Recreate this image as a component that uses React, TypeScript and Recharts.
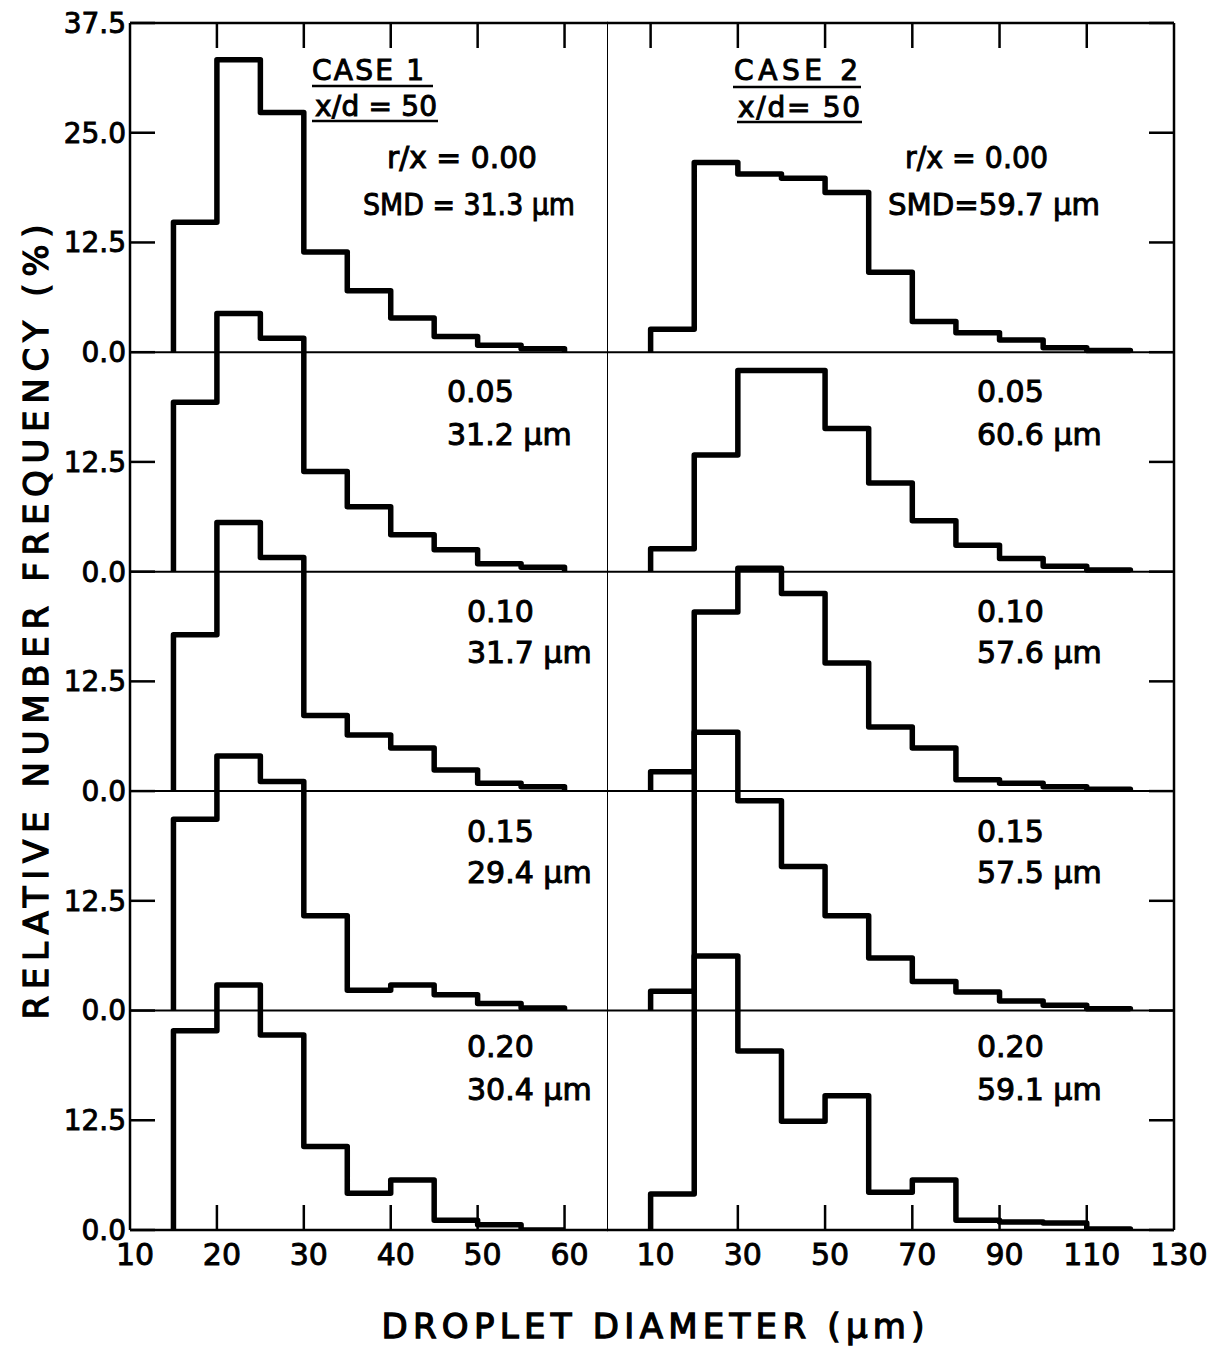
import React from "react";
import { LineChart, Line, XAxis, YAxis, ReferenceLine } from "recharts";

// r/x stations, top row first, with the Sauter mean diameter for each
const radialStations = ["0.00", "0.05", "0.10", "0.15", "0.20"];
const case1Smd = ["31.3", "31.2", "31.7", "29.4", "30.4"];
const case2Smd = ["59.7", "60.6", "57.6", "57.5", "59.1"];

// bin edges in µm
const case1Edges = [15, 20, 25, 30, 35, 40, 45, 50, 55, 60];
const case2Edges = [10, 20, 30, 40, 50, 60, 70, 80, 90, 100, 110, 120];

// relative number frequency (%) per bin, one row per station
const case1Freq = [
    [14.8, 33.3, 27.3, 11.4, 7.0, 3.9, 1.8, 0.8, 0.4],
    [19.3, 29.4, 26.6, 11.4, 7.4, 4.2, 2.5, 0.9, 0.5],
    [17.8, 30.6, 26.6, 8.6, 6.4, 4.9, 2.4, 0.9, 0.5],
    [21.8, 29.0, 26.1, 10.8, 2.3, 2.9, 1.8, 0.8, 0.3],
    [22.7, 27.9, 22.2, 9.5, 4.2, 5.7, 1.1, 0.6, 0],
];
const case2Freq = [
    [2.6, 21.6, 20.3, 19.8, 18.2, 9.1, 3.5, 2.2, 1.4, 0.5, 0.2],
    [2.6, 13.3, 22.9, 22.9, 16.3, 10.1, 5.8, 3.0, 1.5, 0.6, 0.2],
    [2.2, 20.4, 25.4, 22.5, 14.6, 7.3, 4.9, 1.3, 0.9, 0.5, 0.2],
    [2.2, 31.7, 23.9, 16.4, 10.8, 6.0, 3.3, 2.1, 1.1, 0.6, 0.2],
    [4.1, 31.2, 20.4, 12.4, 15.3, 4.3, 5.7, 1.1, 0.9, 0.8, 0.1],
];

// axis ticks
const case1XLabels = [10, 20, 30, 40, 50, 60];
const case1XMarks = [20, 30, 40, 50, 60];
const case2XLabels = [10, 30, 50, 70, 90, 110, 130];
const case2XMarks = [10, 30, 50, 70, 90, 110];
const yTicks = [0, 12.5, 25, 37.5, 50, 62.5, 75, 87.5, 100, 112.5, 125, 137.5];
const panelBaselines = [25, 50, 75, 100];

const PANEL = 25;
const Y_MAX = 137.5;
const FONT = "'DejaVu Sans', sans-serif";
const INK = "#000";
const H = 1346;

type Pt = { x: number; y: number };

// outline of a histogram sitting on a panel baseline
function stepOutline(edges: number[], freq: number[], base: number): Pt[] {
    const pts: Pt[] = [{ x: edges[0], y: base }];
    freq.forEach((f, i) => {
        pts.push({ x: edges[i], y: base + f });
        pts.push({ x: edges[i + 1], y: base + f });
    });
    pts.push({ x: edges[freq.length], y: base });
    return pts;
}

const rowBase = (i: number) => (radialStations.length - 1 - i) * PANEL;

const fmtY = (v: number) => (v >= 125 ? v - 100 : v % PANEL).toFixed(1);

// tick marks only, no label
const NoLabel = () => <g />;

const tickFont = { fill: INK, fontFamily: FONT, stroke: INK, strokeWidth: 0.9 };
const markLine = { stroke: INK, strokeWidth: 2.5 };

function Column({ edges, freq, domain, labels, marks, left, width, isLeft }: any) {
    const margin = isLeft ? { top: 23, right: 0, left: 0, bottom: 0 } : { top: 23, right: 40, left: 0, bottom: 0 };
    return (
        <div style={{ position: "absolute", left, top: 0 }}>
            <LineChart width={width} height={H} margin={margin}>
                <XAxis
                    xAxisId="main"
                    dataKey="x"
                    type="number"
                    domain={domain}
                    allowDataOverflow
                    ticks={labels}
                    interval={0}
                    height={116}
                    tickLine={false}
                    tickSize={0}
                    tickMargin={14}
                    axisLine={markLine}
                    tick={{ ...tickFont, fontSize: 30, dx: 5 }}
                />
                <XAxis
                    xAxisId="bottomMarks"
                    dataKey="x"
                    type="number"
                    domain={domain}
                    allowDataOverflow
                    ticks={marks}
                    interval={0}
                    mirror
                    tick={NoLabel}
                    tickSize={25}
                    axisLine={false}
                    tickLine={markLine}
                />
                <XAxis
                    xAxisId="top"
                    orientation="top"
                    dataKey="x"
                    type="number"
                    domain={domain}
                    allowDataOverflow
                    ticks={marks}
                    interval={0}
                    mirror
                    tick={NoLabel}
                    tickSize={25}
                    axisLine={markLine}
                    tickLine={markLine}
                />
                {isLeft ? (
                    <YAxis
                        yAxisId="main"
                        type="number"
                        domain={[0, Y_MAX]}
                        allowDataOverflow
                        ticks={yTicks}
                        interval={0}
                        width={130}
                        tickLine={false}
                        tickSize={0}
                        tickMargin={4}
                        tickFormatter={fmtY}
                        axisLine={markLine}
                        tick={{ ...tickFont, fontSize: 28 }}
                    />
                ) : (
                    <YAxis
                        yAxisId="main"
                        type="number"
                        domain={[0, Y_MAX]}
                        allowDataOverflow
                        ticks={yTicks}
                        mirror
                        tick={false}
                        tickLine={false}
                        axisLine={{ stroke: INK, strokeWidth: 2 }}
                    />
                )}
                <YAxis
                    yAxisId="marks"
                    orientation={isLeft ? "left" : "right"}
                    type="number"
                    domain={[0, Y_MAX]}
                    allowDataOverflow
                    ticks={yTicks}
                    interval={0}
                    mirror
                    tick={NoLabel}
                    tickSize={25}
                    axisLine={isLeft ? false : markLine}
                    tickLine={markLine}
                />
                {panelBaselines.map((b) => (
                    <ReferenceLine key={b} xAxisId="main" yAxisId="main" y={b} stroke={INK} strokeWidth={2} />
                ))}
                {freq.map((row: number[], i: number) => (
                    <Line
                        key={i}
                        xAxisId="main"
                        yAxisId="main"
                        data={stepOutline(edges, row, rowBase(i))}
                        dataKey="y"
                        type="linear"
                        stroke={INK}
                        strokeWidth={5.5}
                        strokeLinejoin="round"
                        dot={false}
                        activeDot={false}
                        isAnimationActive={false}
                    />
                ))}
            </LineChart>
        </div>
    );
}

const textStyle = { fontFamily: FONT, fill: INK, stroke: INK, strokeWidth: 1 };

// station labels: first line baseline, second line baseline
const rowTextY = [
    [168, 215],
    [402, 445],
    [622, 663],
    [842, 883],
    [1057, 1100],
];

function Annotations() {
    return (
        <svg width={1214} height={H} style={{ position: "absolute", left: 0, top: 0, pointerEvents: "none" }}>
            <text
                transform="translate(48, 622) rotate(-90)"
                textAnchor="middle"
                fontSize={34}
                textLength={795}
                lengthAdjust="spacing"
                style={{ ...textStyle, strokeWidth: 1.3 }}
            >
                RELATIVE NUMBER FREQUENCY (%)
            </text>
            <text
                x={653}
                y={1338}
                textAnchor="middle"
                fontSize={34}
                textLength={543}
                lengthAdjust="spacing"
                style={{ ...textStyle, strokeWidth: 1.3 }}
            >
                DROPLET  DIAMETER  (µm)
            </text>

            <text x={312} y={80} fontSize={28} textLength={112} lengthAdjust="spacing" style={textStyle}>CASE 1</text>
            <line x1={312} x2={433} y1={86} y2={86} stroke={INK} strokeWidth={2.5} />
            <text x={315} y={116} fontSize={28} textLength={122} lengthAdjust="spacing" style={textStyle}>x/d = 50</text>
            <line x1={312} x2={438} y1={121} y2={121} stroke={INK} strokeWidth={2.5} />

            <text x={734} y={80} fontSize={28} textLength={124} lengthAdjust="spacing" style={textStyle}>CASE 2</text>
            <line x1={733} x2={861} y1={87} y2={87} stroke={INK} strokeWidth={2.5} />
            <text x={738} y={117} fontSize={28} textLength={122} lengthAdjust="spacing" style={textStyle}>x/d= 50</text>
            <line x1={737} x2={862} y1={122} y2={122} stroke={INK} strokeWidth={2.5} />

            {radialStations.map((st, i) => {
                const [y1, y2] = rowTextY[i];
                if (i === 0) {
                    return (
                        <g key={st}>
                            <text x={387} y={y1} fontSize={30} textLength={150} lengthAdjust="spacingAndGlyphs" style={textStyle}>{`r/x = ${st}`}</text>
                            <text x={363} y={y2} fontSize={30} textLength={212} lengthAdjust="spacingAndGlyphs" style={textStyle}>{`SMD = ${case1Smd[i]} µm`}</text>
                            <text x={905} y={y1} fontSize={30} textLength={143} lengthAdjust="spacingAndGlyphs" style={textStyle}>{`r/x = ${st}`}</text>
                            <text x={888} y={y2} fontSize={30} textLength={212} lengthAdjust="spacingAndGlyphs" style={textStyle}>{`SMD=${case2Smd[i]} µm`}</text>
                        </g>
                    );
                }
                const lx = i === 1 ? 447 : 467;
                return (
                    <g key={st}>
                        <text x={lx} y={y1} fontSize={30} style={textStyle}>{st}</text>
                        <text x={lx} y={y2} fontSize={30} style={textStyle}>{`${case1Smd[i]} µm`}</text>
                        <text x={977} y={y1} fontSize={30} style={textStyle}>{st}</text>
                        <text x={977} y={y2} fontSize={30} style={textStyle}>{`${case2Smd[i]} µm`}</text>
                    </g>
                );
            })}
        </svg>
    );
}

export default function App() {
    return (
        <div style={{ position: "absolute", left: 0, top: 0, width: 1214, height: H, background: "#fff" }}>
            <Column
                edges={case1Edges}
                freq={case1Freq}
                domain={[10, 65]}
                labels={case1XLabels}
                marks={case1XMarks}
                left={0}
                width={608}
                isLeft
            />
            <Column
                edges={case2Edges}
                freq={case2Freq}
                domain={[0, 130]}
                labels={case2XLabels}
                marks={case2XMarks}
                left={607}
                width={607}
                isLeft={false}
            />
            <Annotations />
        </div>
    );
}
